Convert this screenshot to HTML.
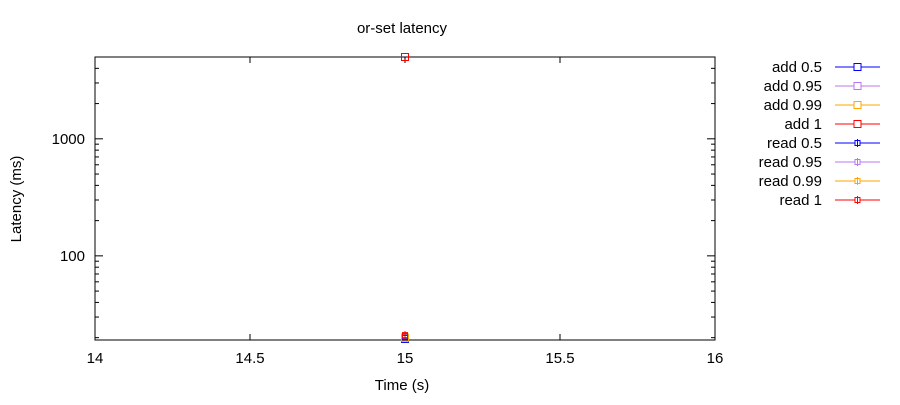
<!DOCTYPE html>
<html><head><meta charset="utf-8"><style>
body{margin:0;background:#fff;}
svg text{font-family:"Liberation Sans",sans-serif;font-size:15px;fill:#000;}
</style></head><body>
<svg id="chart" width="900" height="400" xmlns="http://www.w3.org/2000/svg">
<text x="402" y="33" text-anchor="middle">or-set latency</text>
<text transform="translate(21,199) rotate(-90)" text-anchor="middle">Latency (ms)</text>
<text x="402" y="390" text-anchor="middle">Time (s)</text>
<g id="axes"></g><g id="marks"></g><g id="legend"></g>
</svg>
<script>
const xTicks=[14,14.5,15,15.5,16];
const yMajor=[100,1000];
const seriesNames=["add 0.5","add 0.95","add 0.99","add 1","read 0.5","read 0.95","read 0.99","read 1"];
const seriesColors=["#0000ff","#b877f0","#ffa500","#ff0000","#0000ff","#b877f0","#ffa500","#ff0000"];
const seriesX=[15,15,15,15,15,15,15,15];
const seriesY=[19.5,20,20,5000,20.5,21,21,21];
const L=95,R=715,T=57,B=340,xMin=14,xMax=16,yMin=19.1,yMax=5000;
const ns="http://www.w3.org/2000/svg";
const sx=v=>L+(v-xMin)/(xMax-xMin)*(R-L);
const sy=v=>B-(Math.log10(v)-Math.log10(yMin))/(Math.log10(yMax)-Math.log10(yMin))*(B-T);
function mk(p,t,a){const e=document.createElementNS(ns,t);for(const k in a)e.setAttribute(k,a[k]);p.appendChild(e);return e;}
const ax=document.getElementById('axes');
const fr=mk(ax,'rect',{x:L,y:T,width:R-L,height:B-T,fill:'none',stroke:'#000','stroke-width':1});


xTicks.forEach(v=>{const x=sx(v);
mk(ax,'line',{x1:x,x2:x,y1:B,y2:B-6,stroke:'#000'});
mk(ax,'line',{x1:x,x2:x,y1:T,y2:T+6,stroke:'#000'});
const t=mk(ax,'text',{x:x,y:B+23,'text-anchor':'middle'});t.textContent=v;

});
for(let d=10;d<=1000;d*=10){for(let m=1;m<10;m++){const v=d*m;if(v<yMin||v>yMax)continue;const y=sy(v);const len=m===1?8:4;
mk(ax,'line',{x1:L,x2:L+len,y1:y,y2:y,stroke:'#000'});
mk(ax,'line',{x1:R,x2:R-len,y1:y,y2:y,stroke:'#000'});}}
yMajor.forEach(v=>{const t=mk(ax,'text',{x:L-10,y:sy(v)+5,'text-anchor':'end'});t.textContent=v;

});
const mg=document.getElementById('marks'),lg=document.getElementById('legend');
seriesNames.forEach((n,i)=>{const s=i<4?7:5;const c=seriesColors[i];
const p=mk(mg,'rect',{x:sx(seriesX[i])-s/2,y:sy(seriesY[i])-s/2,width:s,height:s,fill:'none',stroke:c,'stroke-width':1});


if(i>=4){mk(mg,'line',{x1:sx(seriesX[i]),x2:sx(seriesX[i]),y1:sy(seriesY[i])-4,y2:sy(seriesY[i])+4,stroke:c});}
const y=67+i*19;
const g=mk(lg,'g',{});


const t=mk(g,'text',{x:822,y:y+5,'text-anchor':'end'});t.textContent=n;
mk(g,'line',{x1:835,x2:880,y1:y,y2:y,stroke:c});
mk(g,'rect',{x:857.5-s/2,y:y-s/2,width:s,height:s,fill:'#fff',stroke:c});
if(i>=4)mk(g,'line',{x1:857.5,x2:857.5,y1:y-4,y2:y+4,stroke:c});});
</script>
</body></html>
